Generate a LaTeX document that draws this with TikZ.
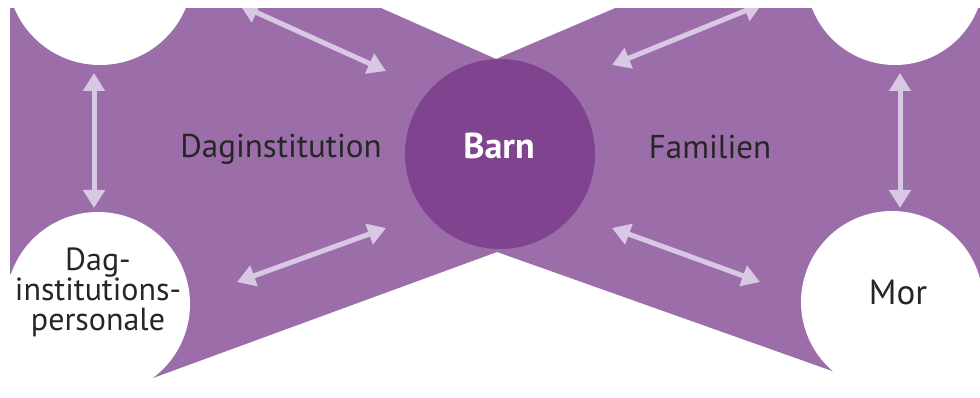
\documentclass[tikz,border=0pt]{standalone}
\usepackage{fontspec}
\setmainfont{PT Sans}
\usetikzlibrary{arrows.meta}
\definecolor{wing}{HTML}{9C6EA9}
\definecolor{hub}{HTML}{7F4390}
\definecolor{arr}{HTML}{D9C8E4}
\definecolor{ink}{HTML}{262626}
\begin{document}
\begin{tikzpicture}[x=1pt,y=-1pt,
  person/.style={circle, fill=white, inner sep=0pt},
  lbl/.style={font=\fontsize{33}{28}\selectfont, text=ink, inner sep=0pt, align=center},
  link/.style={draw=arr, line width=5pt,
    {Triangle[length=18pt,width=21pt]}-{Triangle[length=18pt,width=21pt]}}]
\useasboundingbox (0,0) rectangle (980,398);
\fill[white] (0,0) rectangle (980,398);
\begin{scope}
  \clip (10,9) rectangle (980,398);
  % wings
  \fill[wing] (10,0) -- (363,0) -- (496,59) -- (497,252) -- (153,378) -- (98,304) -- (10,274) -- cycle;
  \fill[wing] (634,0) -- (990,0) -- (990,285) -- (892,302) -- (835,372) -- (497,252) -- (496,59) -- cycle;
  % outer circles
  \node[person, minimum size=186pt] (tl) at (100,-28) {};
  \node[person, minimum size=178pt] (tr) at (895,-24) {};
  \node[person, minimum size=184pt] (bl) at (98,304) {};
  \node[person, minimum size=182pt] (br) at (892,302) {};
  % hub
  \node[circle, fill=hub, inner sep=0pt, minimum size=190pt] (hub) at (500,154) {};
  % arrows
  \coordinate (v1a) at (94,73);  \coordinate (v1b) at (94,208);
  \coordinate (v2a) at (900,73); \coordinate (v2b) at (900,208);
  \coordinate (d1a) at (240,5);  \coordinate (d1b) at (386,71);
  \coordinate (d2a) at (612,65); \coordinate (d2b) at (762,4);
  \coordinate (d3a) at (237,282); \coordinate (d3b) at (386,228);
  \coordinate (d4a) at (612,228); \coordinate (d4b) at (760,282);
  \draw[link] (v1a) -- (v1b);
  \draw[link] (v2a) -- (v2b);
  \draw[link] (d1a) -- (d1b);
  \draw[link] (d2a) -- (d2b);
  \draw[link] (d3a) -- (d3b);
  \draw[link] (d4a) -- (d4b);
\end{scope}
% labels
\node[lbl, anchor=base] (inst) at (281,158) {Daginstitution};
\node[lbl, anchor=base] (fam) at (710,159) {Familien};
\node[lbl, anchor=base, text=white, font=\fontsize{36}{36}\selectfont\bfseries] (barn) at (499,159) {Barn};
\node[lbl, anchor=base, font=\fontsize{35}{35}\selectfont] (mor) at (898,304) {Mor};
\node[lbl, anchor=north, font=\fontsize{32}{30}\selectfont] (staff) at (98,248) {Dag-\\institutions-\\personale};
\end{tikzpicture}
\end{document}
